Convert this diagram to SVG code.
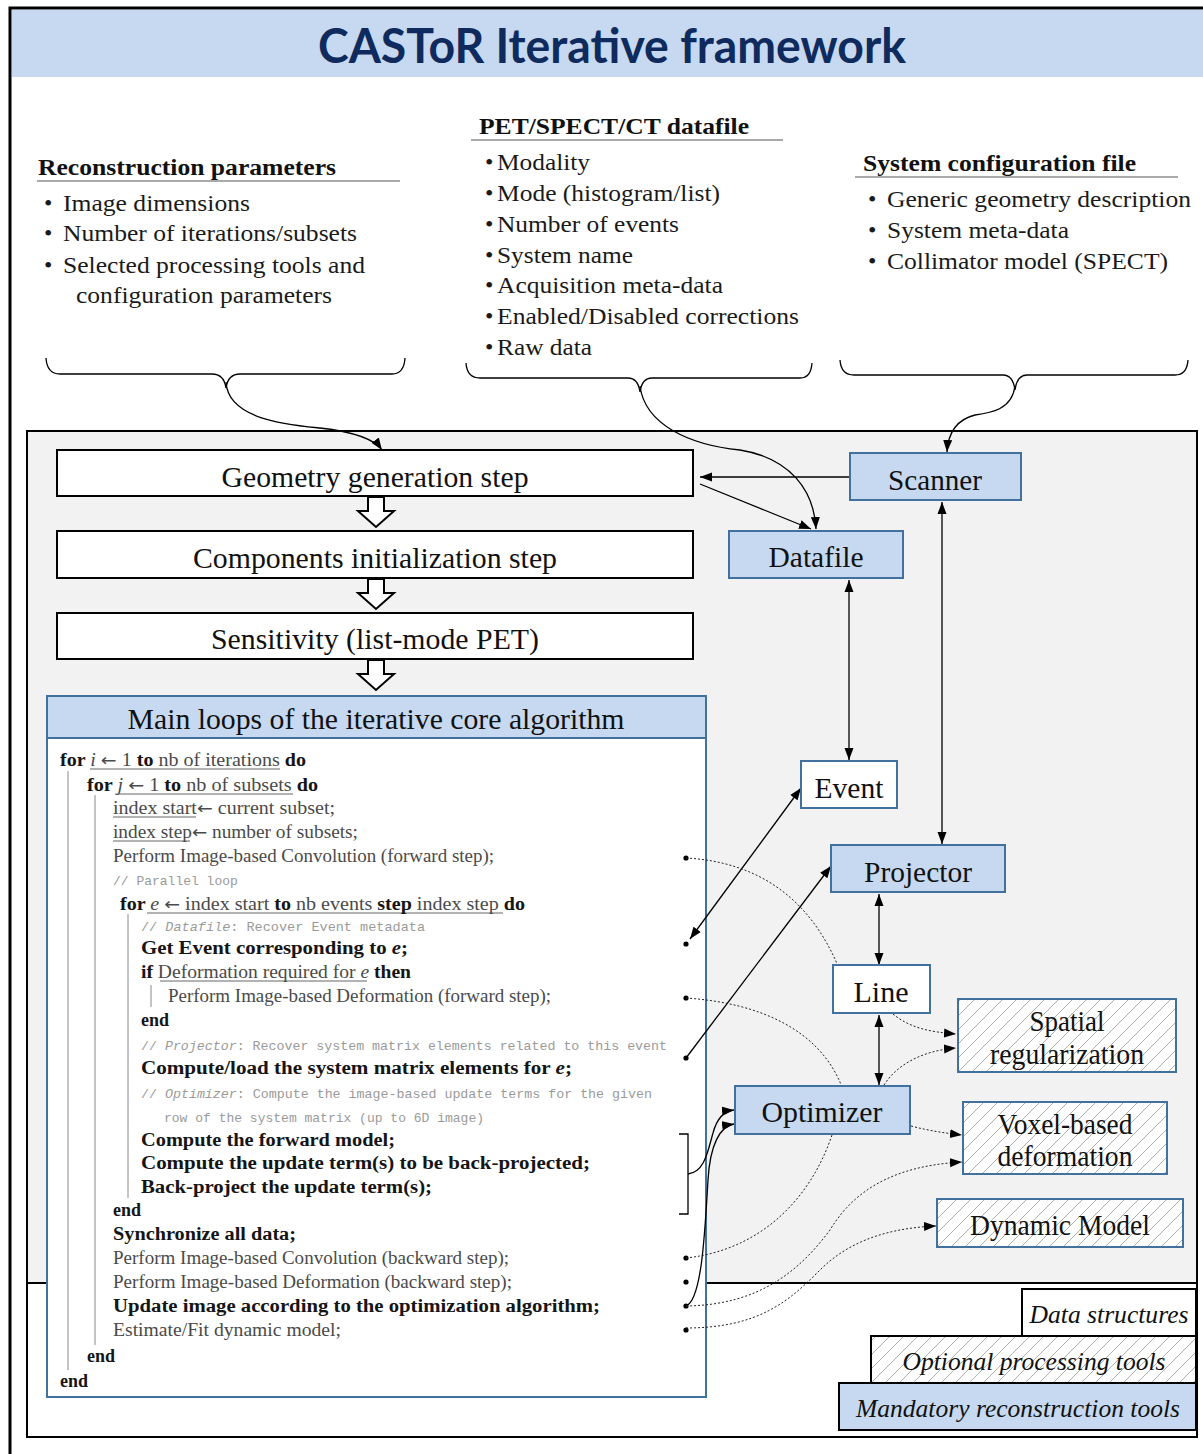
<svg xmlns="http://www.w3.org/2000/svg" width="1203" height="1454" viewBox="0 0 1203 1454">
<style>
.ser{font-family:"Liberation Serif","Times New Roman",serif;fill:#111}
.hd{font-family:"Liberation Serif",serif;font-weight:bold;font-size:24px;fill:#111}
.it{font-family:"Liberation Serif",serif;font-size:24px;fill:#1a1a1a}
.nd{font-family:"Liberation Serif",serif;font-size:29px;fill:#111;text-anchor:middle}
.lg{font-family:"Liberation Serif",serif;font-size:25px;font-style:italic;fill:#111;text-anchor:middle}
.al{font-family:"Liberation Serif",serif;font-size:18px;fill:#4a4a4a}
.b{font-weight:bold;fill:#151515}
.i{font-style:italic}
.ar{font-family:"DejaVu Sans",sans-serif;font-size:17px;font-weight:normal}
.cm{font-family:"Liberation Mono",monospace;font-size:13px;fill:#9a9a9a}
.blue{fill:#c6d9f0;stroke:#41719c;stroke-width:2}
.wb{fill:#fff;stroke:#41719c;stroke-width:2}
.hb{fill:url(#hatch);stroke:#41719c;stroke-width:2}
.step{fill:#fff;stroke:#000;stroke-width:2}
.ln{fill:none;stroke:#000;stroke-width:1.3}
.dl{fill:none;stroke:#222;stroke-width:1;stroke-dasharray:2,2}
.rule{stroke:#8a8a8a;stroke-width:1}
.ul{stroke:#666;stroke-width:1}
</style>
<defs>
<pattern id="hatch" patternUnits="userSpaceOnUse" width="14" height="14">
<rect width="14" height="14" fill="#fff"/>
<path d="M0,14 L14,0 M-2,2 L2,-2 M12,16 L16,12" stroke="#9a9a9a" stroke-width="0.8"/>
</pattern>
<marker id="ah" viewBox="0 0 12 10" refX="12" refY="5" markerWidth="12" markerHeight="10" markerUnits="userSpaceOnUse" orient="auto-start-reverse">
<path d="M0,0.5 L12,5 L0,9.5 z" fill="#000"/>
</marker>
</defs>

<rect width="1203" height="1454" fill="#fff"/>
<!-- outer frame -->
<rect x="10" y="8" width="1200" height="1460" fill="none" stroke="#000" stroke-width="3"/>
<rect x="12" y="10" width="1191" height="67" fill="#c6d9f0"/>
<text x="612" y="63" text-anchor="middle" font-family="Lato,'Open Sans',sans-serif" font-weight="bold" font-size="48" fill="#0f2a5c" textLength="588" lengthAdjust="spacingAndGlyphs">CASToR Iterative framework</text>

<!-- input descriptions -->
<g id="reconstruction-parameters">
<text class="hd" x="38" y="175" textLength="298" lengthAdjust="spacingAndGlyphs">Reconstruction parameters</text>
<line x1="37" y1="181" x2="400" y2="181" stroke="#555" stroke-width="1.2"/>
<text class="it" x="44" y="211">•</text><text class="it" x="63" y="211" textLength="187" lengthAdjust="spacingAndGlyphs">Image dimensions</text>
<text class="it" x="44" y="241">•</text><text class="it" x="63" y="241" textLength="294" lengthAdjust="spacingAndGlyphs">Number of iterations/subsets</text>
<text class="it" x="44" y="273">•</text><text class="it" x="63" y="273" textLength="302" lengthAdjust="spacingAndGlyphs">Selected processing tools and</text>
<text class="it" x="76" y="303" textLength="256" lengthAdjust="spacingAndGlyphs">configuration parameters</text>
<path class="ln" d="M46,358 Q47,374 60,374 L212,374 Q224,374 226,388 Q228,374 240,374 L392,374 Q404,374 405,358"/>
</g>
<g id="datafile-description">
<text class="hd" x="479" y="134" textLength="270" lengthAdjust="spacingAndGlyphs">PET/SPECT/CT datafile</text>
<line x1="471" y1="140" x2="783" y2="140" stroke="#555" stroke-width="1.2"/>
<text class="it" x="485" y="170">•</text><text class="it" x="497" y="170" textLength="93" lengthAdjust="spacingAndGlyphs">Modality</text>
<text class="it" x="485" y="201">•</text><text class="it" x="497" y="201" textLength="223" lengthAdjust="spacingAndGlyphs">Mode (histogram/list)</text>
<text class="it" x="485" y="232">•</text><text class="it" x="497" y="232" textLength="182" lengthAdjust="spacingAndGlyphs">Number of events</text>
<text class="it" x="485" y="263">•</text><text class="it" x="497" y="263" textLength="136" lengthAdjust="spacingAndGlyphs">System name</text>
<text class="it" x="485" y="293">•</text><text class="it" x="497" y="293" textLength="226" lengthAdjust="spacingAndGlyphs">Acquisition meta-data</text>
<text class="it" x="485" y="324">•</text><text class="it" x="497" y="324" textLength="302" lengthAdjust="spacingAndGlyphs">Enabled/Disabled corrections</text>
<text class="it" x="485" y="355">•</text><text class="it" x="497" y="355" textLength="95" lengthAdjust="spacingAndGlyphs">Raw data</text>
<path class="ln" d="M466,363 Q467,378 480,378 L628,378 Q638,378 640,392 Q642,378 652,378 L800,378 Q811,378 812,363"/>
</g>
<g id="system-configuration">
<text class="hd" x="863" y="171" textLength="273" lengthAdjust="spacingAndGlyphs">System configuration file</text>
<line x1="855" y1="177" x2="1178" y2="177" stroke="#555" stroke-width="1.2"/>
<text class="it" x="868" y="207">•</text><text class="it" x="887" y="207" textLength="304" lengthAdjust="spacingAndGlyphs">Generic geometry description</text>
<text class="it" x="868" y="238">•</text><text class="it" x="887" y="238" textLength="182" lengthAdjust="spacingAndGlyphs">System meta-data</text>
<text class="it" x="868" y="269">•</text><text class="it" x="887" y="269" textLength="281" lengthAdjust="spacingAndGlyphs">Collimator model (SPECT)</text>
<path class="ln" d="M840,360 Q841,375 854,375 L1003,375 Q1013,375 1015,390 Q1017,375 1027,375 L1175,375 Q1187,375 1188,360"/>
</g>

<!-- panels -->
<rect x="27" y="431" width="1170" height="1006" fill="#fff" stroke="#000" stroke-width="2"/>
<rect x="27" y="431" width="1170" height="852" fill="#f2f2f2" stroke="#000" stroke-width="2"/>

<!-- pipeline steps -->
<g id="geometry-step">
<rect class="step" x="57" y="450" width="636" height="46"/>
<text class="nd" x="375" y="487" textLength="307" lengthAdjust="spacingAndGlyphs">Geometry generation step</text>
</g>
<g id="components-step">
<rect class="step" x="57" y="531" width="636" height="47"/>
<text class="nd" x="375" y="568" textLength="364" lengthAdjust="spacingAndGlyphs">Components initialization step</text>
</g>
<g id="sensitivity-step">
<rect class="step" x="57" y="613" width="636" height="46"/>
<text class="nd" x="375" y="649" textLength="328" lengthAdjust="spacingAndGlyphs">Sensitivity (list-mode PET)</text>
</g>
<g id="step-arrows" fill="#fff" stroke="#000" stroke-width="2" stroke-linejoin="miter">
<polygon points="368,497 384,497 384,511 394,511 376,527 358,511 368,511"/>
<polygon points="368,579 384,579 384,593 394,593 376,609 358,593 368,593"/>
<polygon points="368,660 384,660 384,674 394,674 376,690 358,674 368,674"/>
</g>

<!-- main loops -->
<g id="main-loops">
<rect x="47" y="696" width="659" height="701" fill="#fff" stroke="#41719c" stroke-width="2"/>
<rect x="47" y="696" width="659" height="42" fill="#c6d9f0" stroke="#41719c" stroke-width="2"/>
<text class="nd" x="376" y="729" textLength="497" lengthAdjust="spacingAndGlyphs">Main loops of the iterative core algorithm</text>

<line class="rule" x1="68" y1="771" x2="68" y2="1370"/>
<line class="rule" x1="95" y1="795" x2="95" y2="1345"/>
<line class="rule" x1="128" y1="914" x2="128" y2="1198"/>
<line class="rule" x1="151" y1="985" x2="151" y2="1007"/>

<line class="ul" x1="90" y1="769" x2="280" y2="769"/>
<line class="ul" x1="117" y1="794" x2="293" y2="794"/>
<line class="ul" x1="113" y1="817" x2="196" y2="817"/>
<line class="ul" x1="113" y1="841" x2="190" y2="841"/>
<line class="ul" x1="147" y1="913" x2="503" y2="913"/>
<line class="ul" x1="160" y1="981" x2="367" y2="981"/>

<text class="al" x="60" y="766" textLength="246" lengthAdjust="spacingAndGlyphs"><tspan class="b">for </tspan><tspan class="i">i</tspan> <tspan class="ar">←</tspan> 1 <tspan class="b">to</tspan> nb of iterations <tspan class="b">do</tspan></text>
<text class="al" x="87" y="791" textLength="231" lengthAdjust="spacingAndGlyphs"><tspan class="b">for </tspan><tspan class="i">j</tspan> <tspan class="ar">←</tspan> 1 <tspan class="b">to</tspan> nb of subsets <tspan class="b">do</tspan></text>
<text class="al" x="113" y="814" textLength="222" lengthAdjust="spacingAndGlyphs">index start<tspan class="ar">←</tspan> current subset;</text>
<text class="al" x="113" y="838" textLength="245" lengthAdjust="spacingAndGlyphs">index step<tspan class="ar">←</tspan> number of subsets;</text>
<text class="al" x="113" y="862" textLength="381" lengthAdjust="spacingAndGlyphs">Perform Image-based Convolution (forward step);</text>
<text class="cm" x="113" y="885">// Parallel loop</text>
<text class="al" x="120" y="910" textLength="405" lengthAdjust="spacingAndGlyphs"><tspan class="b">for </tspan><tspan class="i">e</tspan> <tspan class="ar">←</tspan> index start <tspan class="b">to</tspan> nb events <tspan class="b">step</tspan> index step <tspan class="b">do</tspan></text>
<text class="cm" x="141" y="931" textLength="284" lengthAdjust="spacingAndGlyphs">// <tspan class="i">Datafile</tspan>:  Recover Event metadata</text>
<text class="al b" x="141" y="954" textLength="267" lengthAdjust="spacingAndGlyphs">Get Event corresponding to <tspan class="i">e</tspan>;</text>
<text class="al" x="141" y="978" textLength="270" lengthAdjust="spacingAndGlyphs"><tspan class="b">if</tspan> Deformation required for <tspan class="i">e</tspan> <tspan class="b">then</tspan></text>
<text class="al" x="168" y="1002" textLength="383" lengthAdjust="spacingAndGlyphs">Perform Image-based Deformation (forward step);</text>
<text class="al b" x="141" y="1026">end</text>
<text class="cm" x="141" y="1050" textLength="526" lengthAdjust="spacingAndGlyphs">// <tspan class="i">Projector</tspan>:  Recover system matrix elements related to this event</text>
<text class="al b" x="141" y="1074" textLength="431" lengthAdjust="spacingAndGlyphs">Compute/load the system matrix elements for <tspan class="i">e</tspan>;</text>
<text class="cm" x="141" y="1098" textLength="511" lengthAdjust="spacingAndGlyphs">// <tspan class="i">Optimizer</tspan>:  Compute the image-based update terms for the given</text>
<text class="cm" x="164" y="1122" textLength="320" lengthAdjust="spacingAndGlyphs">row of the system matrix (up to 6D image)</text>
<text class="al b" x="141" y="1146" textLength="254" lengthAdjust="spacingAndGlyphs">Compute the forward model;</text>
<text class="al b" x="141" y="1169" textLength="449" lengthAdjust="spacingAndGlyphs">Compute the update term(s) to be back-projected;</text>
<text class="al b" x="141" y="1193" textLength="291" lengthAdjust="spacingAndGlyphs">Back-project the update term(s);</text>
<text class="al b" x="113" y="1216">end</text>
<text class="al b" x="113" y="1240" textLength="183" lengthAdjust="spacingAndGlyphs">Synchronize all data;</text>
<text class="al" x="113" y="1264" textLength="396" lengthAdjust="spacingAndGlyphs">Perform Image-based Convolution (backward step);</text>
<text class="al" x="113" y="1288" textLength="399" lengthAdjust="spacingAndGlyphs">Perform Image-based Deformation (backward step);</text>
<text class="al b" x="113" y="1312" textLength="487" lengthAdjust="spacingAndGlyphs">Update image according to the optimization algorithm;</text>
<text class="al" x="113" y="1336" textLength="228" lengthAdjust="spacingAndGlyphs">Estimate/Fit dynamic model;</text>
<text class="al b" x="87" y="1362">end</text>
<text class="al b" x="60" y="1387">end</text>

<path class="ln" d="M679,1134 L688,1134 L688,1214 L679,1214"/>
<g fill="#000">
<circle cx="686" cy="858" r="2.6"/>
<circle cx="686" cy="944" r="2.6"/>
<circle cx="686" cy="998" r="2.6"/>
<circle cx="686" cy="1058" r="2.6"/>
<circle cx="686" cy="1258" r="2.6"/>
<circle cx="686" cy="1282" r="2.6"/>
<circle cx="686" cy="1306" r="2.6"/>
<circle cx="686" cy="1330" r="2.6"/>
</g>
</g>

<!-- connectors -->
<g id="connectors">
<path class="ln" d="M226,382 C228,420 290,425 320,428 C355,432 375,440 382,450" marker-end="url(#ah)"/>
<path class="ln" d="M640,386 C645,425 690,445 740,450 C790,458 814,490 816,529" marker-end="url(#ah)"/>
<path class="ln" d="M1015,386 C1012,410 990,413 975,415 C955,420 948,435 947,452" marker-end="url(#ah)"/>
<path class="ln" d="M850,477 L700,477" marker-end="url(#ah)"/>
<path class="ln" d="M700,484 L811,529" marker-end="url(#ah)"/>
<path class="ln" d="M849,580 L849,760" marker-start="url(#ah)" marker-end="url(#ah)"/>
<path class="ln" d="M942,502 L942,844" marker-start="url(#ah)" marker-end="url(#ah)"/>
<path class="ln" d="M690,939 L801,788" marker-start="url(#ah)" marker-end="url(#ah)"/>
<path class="ln" d="M686,1058 L831,866" marker-end="url(#ah)"/>
<path class="ln" d="M879,894 L879,965" marker-start="url(#ah)" marker-end="url(#ah)"/>
<path class="ln" d="M879,1015 L879,1085" marker-start="url(#ah)" marker-end="url(#ah)"/>
<path class="ln" d="M688,1174 C705,1172 708,1150 713,1133 C717,1118 724,1111 734,1110" marker-end="url(#ah)"/>
<path class="ln" d="M686,1306 C702,1300 705,1230 708,1180 C710,1145 720,1126 734,1124" marker-end="url(#ah)"/>
<path class="dl" d="M686,858 C760,862 810,900 838,966"/>
<path class="dl" d="M686,998 C760,1003 820,1030 842,1087"/>
<path class="dl" d="M686,1258 C760,1250 810,1200 832,1135"/>
<path class="dl" d="M893,1014 C910,1028 930,1032 956,1034" marker-end="url(#ah)"/>
<path class="dl" d="M884,1085 C900,1060 930,1050 956,1048" marker-end="url(#ah)"/>
<path class="dl" d="M911,1126 C930,1131 945,1133 962,1135" marker-end="url(#ah)"/>
<path class="dl" d="M686,1306 C760,1305 800,1270 830,1230 C860,1180 910,1165 962,1162" marker-end="url(#ah)"/>
<path class="dl" d="M686,1328 C760,1328 790,1300 820,1270 C850,1240 890,1228 936,1226" marker-end="url(#ah)"/>
</g>

<!-- nodes -->
<g id="scanner"><rect class="blue" x="850" y="453" width="171" height="47"/><text class="nd" x="935" y="490" textLength="94" lengthAdjust="spacingAndGlyphs">Scanner</text></g>
<g id="datafile"><rect class="blue" x="729" y="531" width="174" height="47"/><text class="nd" x="816" y="567" textLength="95" lengthAdjust="spacingAndGlyphs">Datafile</text></g>
<g id="event"><rect class="wb" x="801" y="761" width="96" height="47"/><text class="nd" x="849" y="798" textLength="69" lengthAdjust="spacingAndGlyphs">Event</text></g>
<g id="projector"><rect class="blue" x="831" y="845" width="174" height="47"/><text class="nd" x="918" y="882" textLength="108" lengthAdjust="spacingAndGlyphs">Projector</text></g>
<g id="line"><rect class="wb" x="833" y="965" width="97" height="48"/><text class="nd" x="881" y="1002" textLength="55" lengthAdjust="spacingAndGlyphs">Line</text></g>
<g id="spatial-regularization"><rect class="hb" x="958" y="999" width="218" height="73"/><text class="nd" x="1067" y="1031" textLength="75" lengthAdjust="spacingAndGlyphs">Spatial</text><text class="nd" x="1067" y="1064" textLength="154" lengthAdjust="spacingAndGlyphs">regularization</text></g>
<g id="optimizer"><rect class="blue" x="735" y="1086" width="175" height="48"/><text class="nd" x="822" y="1122" textLength="121" lengthAdjust="spacingAndGlyphs">Optimizer</text></g>
<g id="voxel-deformation"><rect class="hb" x="963" y="1102" width="204" height="72"/><text class="nd" x="1065" y="1134" textLength="135" lengthAdjust="spacingAndGlyphs">Voxel-based</text><text class="nd" x="1065" y="1166" textLength="135" lengthAdjust="spacingAndGlyphs">deformation</text></g>
<g id="dynamic-model"><rect class="hb" x="937" y="1199" width="246" height="48"/><text class="nd" x="1060" y="1235" textLength="180" lengthAdjust="spacingAndGlyphs">Dynamic Model</text></g>

<!-- legend -->
<g id="legend">
<rect x="1022" y="1289" width="174" height="47" fill="#fff" stroke="#000" stroke-width="2"/>
<text class="lg" x="1109" y="1323" textLength="159" lengthAdjust="spacingAndGlyphs">Data structures</text>
<rect x="871" y="1336" width="325" height="47" fill="url(#hatch)" stroke="#000" stroke-width="2"/>
<text class="lg" x="1034" y="1370" textLength="263" lengthAdjust="spacingAndGlyphs">Optional processing tools</text>
<rect x="839" y="1383" width="357" height="47" fill="#c6d9f0" stroke="#000" stroke-width="2"/>
<text class="lg" x="1018" y="1417" textLength="324" lengthAdjust="spacingAndGlyphs">Mandatory reconstruction tools</text>
</g>
</svg>
